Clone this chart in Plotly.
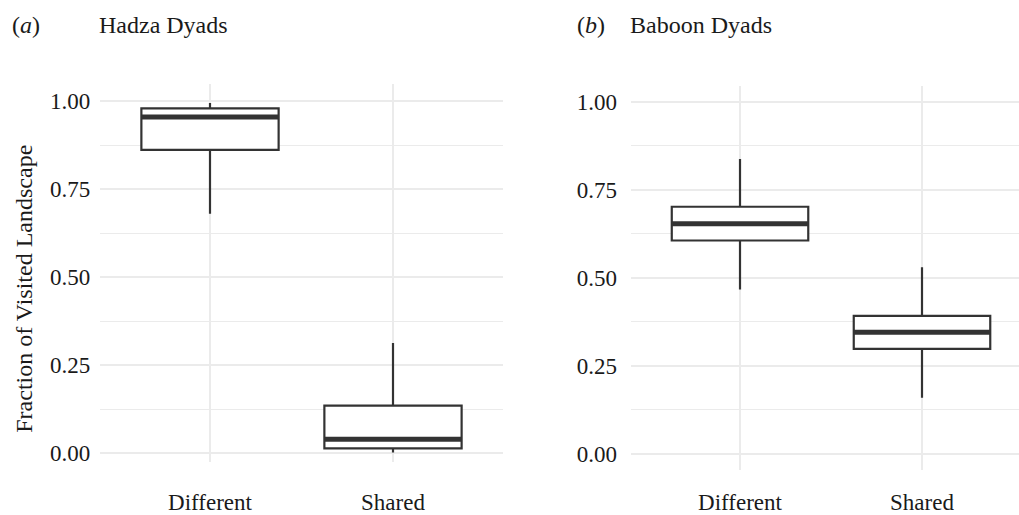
import plotly.graph_objects as go

W, H = 1019, 515

categories = ["Different", "Shared"]
cat_pos = [1, 2]

# Hadza dyads (panel a)
hadza_lower = [0.68, 0.002]
hadza_q1 = [0.862, 0.014]
hadza_median = [0.955, 0.040]
hadza_q3 = [0.980, 0.135]
hadza_upper = [0.995, 0.313]

# Baboon dyads (panel b)
baboon_lower = [0.467, 0.159]
baboon_q1 = [0.606, 0.298]
baboon_median = [0.654, 0.345]
baboon_q3 = [0.702, 0.392]
baboon_upper = [0.838, 0.530]

y_ticks = [0, 0.25, 0.5, 0.75, 1.0]
y_ticktext = ["0.00", "0.25", "0.50", "0.75", "1.00"]

BOX_W = 0.75
LINE = "#333333"
GRID = "#EBEBEB"
FONT = "Liberation Serif"
TXT = "#1a1a1a"

fig = go.Figure()

panels = [
    ("x", "y", hadza_lower, hadza_q1, hadza_median, hadza_q3, hadza_upper),
    ("x2", "y2", baboon_lower, baboon_q1, baboon_median, baboon_q3, baboon_upper),
]
for xa, ya, lo, q1, med, q3, up in panels:
    fig.add_trace(go.Box(
        x=cat_pos, lowerfence=lo, q1=q1, median=med, q3=q3, upperfence=up,
        xaxis=xa, yaxis=ya, width=BOX_W, whiskerwidth=0,
        fillcolor="white", line=dict(color=LINE, width=2.2),
        boxpoints=False, showlegend=False, hoverinfo="skip",
    ))
    for p, m in zip(cat_pos, med):
        fig.add_trace(go.Scatter(
            x=[p - BOX_W / 2, p + BOX_W / 2], y=[m, m], mode="lines",
            line=dict(color=LINE, width=5), xaxis=xa, yaxis=ya,
            showlegend=False, hoverinfo="skip",
        ))

def px_x(v):
    return v / W

def px_y(v):
    return (H - v) / H

common_x = dict(
    tickmode="array", tickvals=cat_pos, ticktext=categories,
    showgrid=True, gridcolor=GRID, gridwidth=2, zeroline=False,
    showline=False, ticks="", tickfont=dict(family=FONT, size=23, color=TXT),
)
common_y = dict(
    tickmode="array", tickvals=y_ticks, ticktext=y_ticktext,
    showgrid=True, gridcolor=GRID, gridwidth=2, zeroline=False,
    showline=False, ticks="", tickfont=dict(family=FONT, size=23, color=TXT),
    minor=dict(dtick=0.125, tick0=0, showgrid=True, gridcolor=GRID, gridwidth=1, ticks=""),
)

fig.update_layout(
    width=W, height=H,
    margin=dict(l=0, r=0, t=0, b=0),
    paper_bgcolor="white", plot_bgcolor="white",
    xaxis=dict(**common_x, domain=[px_x(100.2), px_x(502.8)], range=[0.4, 2.6],
               anchor="y", ticklabelstandoff=24),
    yaxis=dict(**common_y, domain=[px_y(466), px_y(85)], range=[-0.026, 1.048],
               anchor="x", ticklabelstandoff=9),
    xaxis2=dict(**common_x, domain=[px_x(631), 1.0], range=[0.401, 2.533],
                anchor="y2", ticklabelstandoff=16),
    yaxis2=dict(**common_y, domain=[px_y(474), px_y(86.7)], range=[-0.047, 1.045],
                anchor="x2", ticklabelstandoff=13),
    font=dict(family=FONT, color=TXT),
    annotations=[
        dict(text="(<i>a</i>)", x=px_x(10), y=px_y(25), xref="paper", yref="paper",
             xanchor="left", yanchor="middle", showarrow=False,
             font=dict(family=FONT, size=24, color=TXT)),
        dict(text="Hadza Dyads", x=px_x(97), y=px_y(25), xref="paper", yref="paper",
             xanchor="left", yanchor="middle", showarrow=False,
             font=dict(family=FONT, size=24, color=TXT)),
        dict(text="(<i>b</i>)", x=px_x(575), y=px_y(25), xref="paper", yref="paper",
             xanchor="left", yanchor="middle", showarrow=False,
             font=dict(family=FONT, size=24, color=TXT)),
        dict(text="Baboon Dyads", x=px_x(628), y=px_y(25), xref="paper", yref="paper",
             xanchor="left", yanchor="middle", showarrow=False,
             font=dict(family=FONT, size=24, color=TXT)),
        dict(text="Fraction of Visited Landscape", x=px_x(24), y=px_y(291),
             xref="paper", yref="paper", xanchor="center", yanchor="middle",
             textangle=-90, showarrow=False,
             font=dict(family=FONT, size=24, color=TXT)),
    ],
)

fig.write_html("out.html", config={"displayModeBar": False},
               post_script="document.body.style.margin='0px';")
